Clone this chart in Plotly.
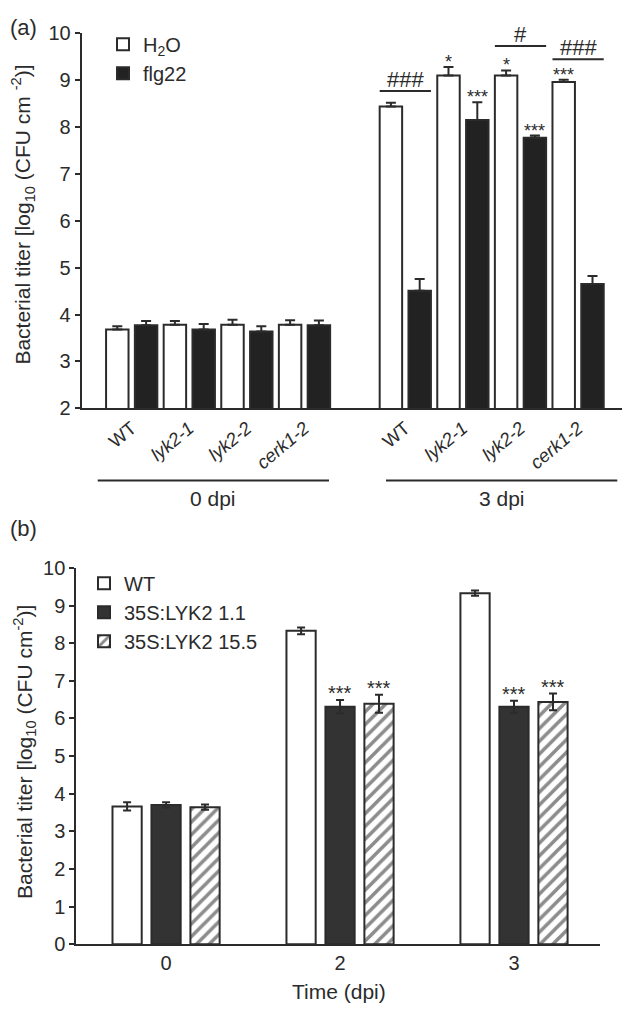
import plotly.graph_objects as go

# ---------------- Panel (a) data ----------------
genotypes = ["WT", "lyk2-1", "lyk2-2", "cerk1-2"]
genotype_labels = ["WT", "<i>lyk2-1</i>", "<i>lyk2-2</i>", "<i>cerk1-2</i>"]
time_groups_a = ["0 dpi", "3 dpi"]
h2o_0 = [3.68, 3.78, 3.78, 3.78]
h2o_0_err = [0.07, 0.08, 0.11, 0.10]
flg_0 = [3.77, 3.68, 3.64, 3.77]
flg_0_err = [0.09, 0.12, 0.11, 0.10]
h2o_3 = [8.44, 9.10, 9.10, 8.96]
h2o_3_err = [0.08, 0.18, 0.11, 0.05]
flg_3 = [4.51, 8.15, 7.77, 4.65]
flg_3_err = [0.25, 0.38, 0.05, 0.17]
h2o_3_sig = ["", "*", "*", "***"]
flg_3_sig = ["", "***", "***", ""]
hash_genotypes = ["WT", "lyk2-2", "cerk1-2"]
hash_labels = ["###", "#", "###"]
hash_levels = [8.77, 9.73, 9.45]

# ---------------- Panel (b) data ----------------
times_b = ["0", "2", "3"]
series_b = ["WT", "35S:LYK2 1.1", "35S:LYK2 15.5"]
wt_b = [3.66, 8.33, 9.33]
wt_b_err = [0.11, 0.09, 0.07]
l11_b = [3.70, 6.31, 6.31]
l11_b_err = [0.07, 0.18, 0.16]
l155_b = [3.64, 6.39, 6.44]
l155_b_err = [0.07, 0.24, 0.22]
l11_sig = ["", "***", "***"]
l155_sig = ["", "***", "***"]

# ---------------- styling ----------------
# The page adds an 8 px body margin; size the figure so the whole page is 630x1016.
PAGE_W, PAGE_H, PAD = 630, 1016, 8
W, H = PAGE_W - 2 * PAD, PAGE_H - 2 * PAD
FONT = "Liberation Sans, Arial, sans-serif"
TXT = "#2b2b2b"
EDGE = "#2b2b2b"
DARK_A = "#222222"
DARK_B = "#333333"

def px_x(p):
    # page pixel -> paper fraction
    return (p - PAD) / W

def px_y(p):
    return 1 - (p - PAD) / H

group_start = [0, 9.5]
bw_a = 0.78

def pos_a(g, i, t):
    return group_start[g] + 2 * i + t

fig = go.Figure()

for t, (name, fill, vals, errs) in enumerate([
    ("H<sub>2</sub>O", "white", (h2o_0, h2o_3), (h2o_0_err, h2o_3_err)),
    ("flg22", DARK_A, (flg_0, flg_3), (flg_0_err, flg_3_err)),
]):
    xs, ys, es = [], [], []
    for g in range(2):
        for i in range(len(genotypes)):
            xs.append(pos_a(g, i, t))
            ys.append(vals[g][i])
            es.append(errs[g][i])
    fig.add_trace(go.Bar(
        x=xs, y=ys, width=bw_a, name=name, xaxis="x", yaxis="y",
        marker=dict(color=fill, line=dict(color=EDGE, width=2)),
        error_y=dict(type="data", symmetric=False, array=es, arrayminus=[0] * len(es),
                     color=EDGE, thickness=2, width=5),
        legend="legend", showlegend=True,
    ))

bw_b = 0.168
step_b = 0.224
b_series = [
    (series_b[0], dict(color="white"), wt_b, wt_b_err),
    (series_b[1], dict(color=DARK_B), l11_b, l11_b_err),
    (series_b[2], dict(color="white", pattern=dict(shape="/", fgcolor="#1a1a1a", bgcolor="white",
                                                   size=9, solidity=0.4)), l155_b, l155_b_err),
]
for k, (name, mk, vals, errs) in enumerate(b_series):
    fig.add_trace(go.Bar(
        x=times_b, y=vals, name=name, xaxis="x2", yaxis="y2",
        width=bw_b, offset=(k - 1) * step_b - bw_b / 2,
        marker=dict(line=dict(color=EDGE, width=2), **mk),
        error_y=dict(type="data", symmetric=True, array=errs, color=EDGE, thickness=2, width=4),
        legend="legend2",
    ))

annotations = []
shapes = []

for i in range(len(genotypes)):
    for t, sig, vals, errs in [(0, h2o_3_sig, h2o_3, h2o_3_err), (1, flg_3_sig, flg_3, flg_3_err)]:
        if sig[i]:
            annotations.append(dict(
                x=pos_a(1, i, t), y=vals[i] + errs[i], xref="x", yref="y",
                text=sig[i], showarrow=False, yanchor="bottom", yshift=-7,
                font=dict(size=18, color=TXT, family=FONT)))

for gname, lab, lev in zip(hash_genotypes, hash_labels, hash_levels):
    i = genotypes.index(gname)
    x0 = pos_a(1, i, 0) - bw_a / 2
    x1 = pos_a(1, i, 1) + bw_a / 2
    shapes.append(dict(type="line", xref="x", yref="y", x0=x0, x1=x1, y0=lev, y1=lev,
                       line=dict(color=EDGE, width=2)))
    annotations.append(dict(x=(x0 + x1) / 2, y=lev, xref="x", yref="y", text=lab,
                            showarrow=False, yanchor="bottom", yshift=-3,
                            font=dict(size=22, color=TXT, family=FONT)))

grp_ext = [(-0.68, 0.35), (-0.17, 0.86)]
for g, lab in enumerate(time_groups_a):
    first = pos_a(g, 0, 0)
    last = pos_a(g, len(genotypes) - 1, 1)
    x0 = first + grp_ext[g][0]
    x1 = last + grp_ext[g][1]
    shapes.append(dict(type="line", xref="x", yref="paper", x0=x0, x1=x1,
                       y0=px_y(480), y1=px_y(480), line=dict(color=EDGE, width=2)))
    annotations.append(dict(x=(x0 + x1) / 2, y=px_y(498), xref="x", yref="paper", text=lab,
                            showarrow=False, yanchor="middle",
                            font=dict(size=21, color=TXT, family=FONT)))

for k, (sig, vals, errs) in enumerate([(l11_sig, l11_b, l11_b_err), (l155_sig, l155_b, l155_b_err)]):
    for j, tlab in enumerate(times_b):
        if sig[j]:
            annotations.append(dict(
                x=j + k * step_b, y=vals[j] + errs[j], xref="x2", yref="y2",
                text=sig[j], showarrow=False, yanchor="bottom", yshift=-6,
                font=dict(size=20, color=TXT, family=FONT)))

annotations += [
    dict(x=px_x(23), y=px_y(208), xref="paper", yref="paper", textangle=-90, showarrow=False,
         text="Bacterial titer [log<sub>10</sub> (CFU cm <sup>-2</sup>)]",
         font=dict(size=21, color=TXT, family=FONT), xanchor="center", yanchor="middle"),
    dict(x=px_x(8), y=px_y(758), xref="paper", yref="paper", textangle=-90, showarrow=False,
         text="Bacterial titer [log<sub>10</sub> (CFU cm<sup>-2</sup>)]",
         font=dict(size=21, color=TXT, family=FONT), xanchor="left", yanchor="middle"),
    dict(x=px_x(8), y=px_y(17), xref="paper", yref="paper", text="(a)", showarrow=False,
         xanchor="left", yanchor="middle", font=dict(size=22, color=TXT, family=FONT)),
    dict(x=px_x(8), y=px_y(529), xref="paper", yref="paper", text="(b)", showarrow=False,
         xanchor="left", yanchor="middle", font=dict(size=22, color=TXT, family=FONT)),
    dict(x=px_x(339), y=px_y(1002), xref="paper", yref="paper", text="Time (dpi)", showarrow=False,
         xanchor="center", yanchor="middle", font=dict(size=21, color=TXT, family=FONT)),
]

axis_common = dict(showline=True, linecolor=EDGE, linewidth=2, showgrid=False, zeroline=False)
yfont = dict(size=20, color=TXT, family=FONT)

pair_centers = [pos_a(g, i, 0) + 0.5 for g in range(2) for i in range(len(genotypes))]

# panel (a) horizontal scale: 28.8 px per bar slot, first slot centre at page x 117.3
a_left, a_right, a_unit, a_x0 = 81.7, 622.0, 28.8, 117.3
a_range = [(a_left - a_x0) / a_unit, (a_right - a_x0) / a_unit]

fig.update_layout(
    width=W, height=H,
    margin=dict(l=0, r=0, t=0, b=0),
    paper_bgcolor="white", plot_bgcolor="rgba(0,0,0,0)",
    barmode="overlay",
    font=dict(family=FONT, color=TXT),
    xaxis=dict(domain=[px_x(a_left), px_x(a_right)], range=a_range, anchor="y",
               tickvals=pair_centers, ticktext=genotype_labels * 2, tickangle=-40,
               ticks="", tickfont=dict(size=18.5, color=TXT, family=FONT), **axis_common),
    yaxis=dict(domain=[px_y(406), px_y(22.7)], range=[2, 10], dtick=1, anchor="x",
               ticks="outside", ticklen=5, tickwidth=2, tickcolor=EDGE, tickfont=yfont,
               **axis_common),
    xaxis2=dict(domain=[px_x(76.3), px_x(599.6)], type="category", range=[-0.516, 2.492],
                anchor="y2", ticks="", tickfont=yfont, **axis_common),
    yaxis2=dict(domain=[px_y(954), px_y(569.3)], range=[0, 10], dtick=1, anchor="x2",
                ticks="outside", ticklen=5, tickwidth=2, tickcolor=EDGE, tickfont=yfont,
                **axis_common),
    legend=dict(x=px_x(103), y=px_y(14), xanchor="left", yanchor="top",
                bgcolor="rgba(0,0,0,0)", font=dict(size=20, color=TXT, family=FONT)),
    legend2=dict(x=px_x(84), y=px_y(565), xanchor="left", yanchor="top",
                 bgcolor="rgba(0,0,0,0)", font=dict(size=20, color=TXT, family=FONT)),
    annotations=annotations,
    shapes=shapes,
)

fig.write_html("out.html")
